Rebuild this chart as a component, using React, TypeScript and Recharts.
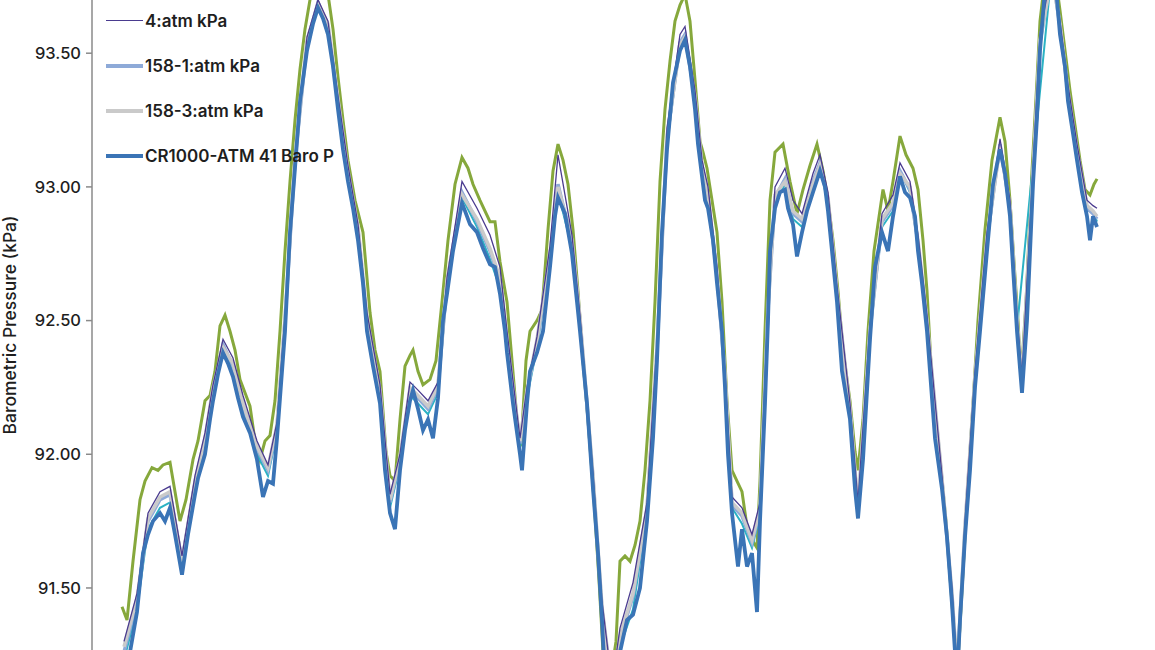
import React from 'react';
import { LineChart, Line, XAxis, YAxis, Legend } from 'recharts';

// sample times (hours from start of record)
const hoursA = [
  2, 8, 15, 21, 26, 31, 38, 43, 48, 53,
  60, 66, 73, 76, 83, 88, 91, 96, 101, 106,
  111, 116, 121, 128, 135, 141, 146, 151, 155, 160,
  163, 168, 173, 178, 185, 191, 196, 201, 206, 211,
  216, 221, 226, 231, 236, 241, 245, 251, 258, 263,
  268, 273, 278, 283, 288, 291, 296, 301, 306, 311,
  316, 321, 325, 331, 340, 348, 355, 361, 368, 373,
  378, 383, 385, 391, 398, 400, 405, 408, 415, 421,
  428, 433, 436, 443, 450, 455, 458, 465, 471, 476,
  480, 483, 490, 496, 498, 505, 511, 518, 525, 531,
  535, 540, 545, 551, 558, 563, 568, 573, 576, 580,
  583, 586, 591, 595, 600, 603, 606, 610, 616, 620,
  625, 630, 635, 638, 643, 646, 648, 653, 658, 663,
  666, 671, 675, 680, 685, 691, 698, 703, 706, 710,
  715, 720, 728, 733, 736, 741, 748, 753, 760, 766,
  771, 778, 783, 788, 793, 796, 800, 805, 813, 820,
  825, 830, 833, 835, 838, 843, 848, 853, 858, 865,
  871, 878, 883, 888, 891, 895, 900, 905, 911, 915,
  918, 923, 930, 935, 938, 943, 946, 951, 955, 960,
  965, 968, 971, 975,
];

const cr1000Baro = [
  91.22, 91.26, 91.41, 91.63, 91.70, 91.75, 91.78, 91.75, 91.80, 91.70,
  91.55, 91.70, 91.85, 91.91, 92.00, 92.13, 92.20, 92.30, 92.38, 92.34,
  92.29, 92.21, 92.14, 92.08, 91.98, 91.84, 91.90, 91.89, 92.06, 92.31,
  92.46, 92.83, 93.07, 93.32, 93.51, 93.61, 93.67, 93.63, 93.57, 93.45,
  93.29, 93.14, 93.02, 92.92, 92.80, 92.64, 92.46, 92.33, 92.19, 91.94,
  91.78, 91.72, 91.94, 92.09, 92.20, 92.24, 92.17, 92.09, 92.13, 92.06,
  92.21, 92.50, 92.60, 92.76, 92.94, 92.86, 92.83, 92.77, 92.71, 92.70,
  92.60, 92.46, 92.38, 92.19, 92.00, 91.94, 92.19, 92.31, 92.38, 92.46,
  92.70, 92.89, 92.96, 92.90, 92.75, 92.57, 92.46, 92.19, 91.87, 91.63,
  91.38, 91.15, 91.08, 91.19, 91.26, 91.38, 91.40, 91.50, 91.75, 92.06,
  92.35, 92.83, 93.14, 93.39, 93.51, 93.55, 93.45, 93.29, 93.16, 93.04,
  92.95, 92.92, 92.80, 92.64, 92.46, 92.25, 92.00, 91.78, 91.58, 91.72,
  91.58, 91.63, 91.41, 91.75, 92.19, 92.50, 92.76, 92.92, 92.98, 92.99,
  92.92, 92.86, 92.74, 92.83, 92.91, 92.98, 93.06, 93.00, 92.91, 92.76,
  92.57, 92.31, 92.13, 91.87, 91.76, 91.98, 92.43, 92.70, 92.83, 92.76,
  92.89, 93.04, 92.98, 92.96, 92.89, 92.76, 92.64, 92.46, 92.06, 91.87,
  91.69, 91.44, 91.26, 91.15, 91.38, 91.69, 91.94, 92.25, 92.46, 92.76,
  93.01, 93.14, 93.05, 92.89, 92.70, 92.46, 92.23, 92.50, 93.01, 93.26,
  93.51, 93.74, 93.78, 93.70, 93.57, 93.45, 93.32, 93.20, 93.10, 92.98,
  92.89, 92.80, 92.89, 92.85,
];

const hoursB = [
  2, 15, 26, 38, 48, 60, 73, 83, 91, 101,
  111, 121, 135, 146, 155, 163, 173, 185, 196, 206,
  216, 226, 236, 245, 258, 268, 278, 288, 296, 306,
  316, 325, 340, 355, 368, 378, 385, 398, 405, 415,
  428, 436, 450, 458, 471, 480, 490, 498, 511, 525,
  535, 545, 558, 563, 573, 580, 586, 595, 603, 610,
  620, 630, 638, 646, 653, 663, 671, 680, 691, 698,
  706, 715, 728, 736, 748, 760, 771, 778, 788, 796,
  805, 820, 830, 835, 843, 853, 865, 878, 888, 895,
  900, 911, 918, 930, 938, 946, 955, 965, 971, 975,
];

const atm4 = [
  91.30, 91.48, 91.78, 91.86, 91.88, 91.62, 91.92, 92.08, 92.26, 92.43,
  92.36, 92.22, 92.05, 91.96, 92.12, 92.52, 93.12, 93.56, 93.70, 93.62,
  93.34, 93.08, 92.86, 92.53, 92.26, 91.85, 92.00, 92.27, 92.24, 92.20,
  92.27, 92.66, 93.02, 92.92, 92.82, 92.70, 92.46, 92.06, 92.25, 92.44,
  92.78, 93.12, 92.82, 92.52, 91.93, 91.45, 91.14, 91.35, 91.52, 91.82,
  92.42, 93.22, 93.57, 93.60, 93.36, 93.10, 93.00, 92.70, 92.31, 91.84,
  91.80, 91.70, 91.82, 92.56, 93.00, 93.07, 92.95, 92.90, 93.05, 93.12,
  92.98, 92.63, 92.19, 91.82, 92.49, 92.90, 92.97, 93.09, 93.02, 92.82,
  92.52, 91.92, 91.50, 91.20, 91.75, 92.31, 92.83, 93.18, 92.95, 92.52,
  92.29, 93.07, 93.57, 93.82, 93.62, 93.38, 93.16, 92.95, 92.93, 92.92,
];

const atm158_1 = [
  91.26, 91.45, 91.75, 91.83, 91.85, 91.60, 91.89, 92.04, 92.24, 92.41,
  92.33, 92.18, 92.02, 91.94, 92.10, 92.50, 93.10, 93.54, 93.69, 93.60,
  93.32, 93.05, 92.84, 92.50, 92.23, 91.82, 91.98, 92.24, 92.21, 92.17,
  92.25, 92.64, 92.98, 92.87, 92.76, 92.65, 92.42, 92.04, 92.23, 92.42,
  92.74, 93.01, 92.79, 92.50, 91.91, 91.42, 91.12, 91.31, 91.47, 91.79,
  92.39, 93.18, 93.54, 93.57, 93.33, 93.07, 92.96, 92.67, 92.29, 91.81,
  91.77, 91.67, 91.79, 92.54, 92.96, 93.03, 92.90, 92.87, 93.02, 93.09,
  92.95, 92.60, 92.16, 91.79, 92.46, 92.87, 92.93, 93.06, 92.99, 92.79,
  92.49, 91.90, 91.47, 91.18, 91.72, 92.28, 92.80, 93.16, 92.92, 92.49,
  92.26, 93.04, 93.54, 93.80, 93.60, 93.35, 93.13, 92.92, 92.90, 92.88,
];

const atm158_3 = [
  91.28, 91.46, 91.76, 91.84, 91.86, 91.60, 91.90, 92.06, 92.25, 92.40,
  92.34, 92.19, 92.03, 91.95, 92.11, 92.51, 93.11, 93.55, 93.68, 93.61,
  93.33, 93.06, 92.85, 92.51, 92.24, 91.83, 91.99, 92.25, 92.22, 92.18,
  92.26, 92.65, 92.97, 92.88, 92.77, 92.66, 92.43, 92.05, 92.24, 92.43,
  92.75, 93.00, 92.80, 92.51, 91.92, 91.43, 91.13, 91.32, 91.48, 91.80,
  92.40, 93.19, 93.53, 93.56, 93.34, 93.08, 92.97, 92.68, 92.30, 91.82,
  91.78, 91.68, 91.80, 92.55, 92.97, 93.02, 92.91, 92.88, 93.01, 93.08,
  92.96, 92.61, 92.17, 91.80, 92.47, 92.88, 92.94, 93.05, 93.00, 92.80,
  92.50, 91.91, 91.48, 91.19, 91.73, 92.29, 92.81, 93.15, 92.93, 92.50,
  92.27, 93.05, 93.55, 93.79, 93.61, 93.36, 93.14, 92.93, 92.91, 92.89,
];

// teal trace (its legend entry is above the visible area); gap near the end
const tealTrace = [
  91.23, 91.42, 91.72, 91.80, 91.82, 91.57, 91.87, 92.02, 92.22, 92.39,
  92.31, 92.16, 92.00, 91.92, 92.08, 92.48, 93.09, 93.53, 93.68, 93.59,
  93.31, 93.04, 92.82, 92.48, 92.21, 91.80, 91.96, 92.22, 92.19, 92.15,
  92.23, 92.62, 92.96, 92.85, 92.73, 92.62, 92.40, 92.02, 92.21, 92.40,
  92.72, 92.98, 92.77, 92.48, 91.89, 91.40, 91.10, 91.28, 91.42, 91.77,
  92.37, 93.16, 93.53, 93.57, 93.31, 93.06, 92.94, 92.66, 92.27, 91.80,
  91.74, 91.65, 91.77, 92.52, 92.94, 93.01, 92.88, 92.85, 93.00, 93.08,
  92.93, 92.59, 92.15, 91.78, 92.45, 92.85, 92.91, 93.06, 92.98, 92.78,
  92.48, 91.89, 91.46, 91.17, 91.71, 92.27, 92.78, 93.16, 92.91, 92.47,
  null, null, null, 93.82, 93.59, 93.34, 93.12, 92.91, 92.91, 92.87,
];

// green trace (its legend entry is above the visible area)
const hoursGreen = [
  0, 5, 11, 18, 23, 30, 36, 41, 48, 53,
  58, 64, 71, 76, 83, 88, 93, 98, 103, 108,
  113, 118, 123, 128, 133, 138, 143, 148, 153, 158,
  163, 168, 173, 178, 183, 188, 196, 206, 211, 216,
  221, 226, 233, 241, 248, 253, 258, 264, 268, 273,
  278, 283, 288, 291, 296, 301, 308, 314, 320, 326,
  333, 340, 346, 351, 358, 368, 373, 378, 385, 390,
  395, 399, 404, 408, 415, 420, 426, 431, 436, 441,
  446, 451, 456, 461, 466, 472, 477, 481, 488, 494,
  498, 503, 508, 513, 518, 523, 528, 533, 538, 543,
  548, 553, 558, 563, 568, 573, 578, 581, 585, 590,
  595, 600, 605, 610, 615, 620, 625, 630, 635, 638,
  643, 648, 653, 661, 668, 675, 681, 688, 695, 701,
  706, 711, 716, 721, 728, 733, 736, 741, 746, 752,
  761, 766, 771, 778, 784, 791, 796, 801, 805, 811,
  818, 824, 829, 833, 836, 840, 845, 850, 856, 863,
  870, 878, 883, 888, 892, 896, 899, 904, 910, 915,
  918, 923, 933, 938, 943, 948, 953, 958, 963, 968,
  972, 975,
];

const greenTrace = [
  91.43, 91.38, 91.60, 91.83, 91.90, 91.95, 91.94, 91.96, 91.97, 91.86,
  91.75, 91.83, 91.98, 92.05, 92.20, 92.22, 92.31, 92.48, 92.52, 92.46,
  92.39, 92.28, 92.23, 92.18, 92.05, 91.98, 92.05, 92.07, 92.20, 92.46,
  92.76, 93.02, 93.25, 93.44, 93.59, 93.70, 93.79, 93.72, 93.59, 93.41,
  93.25, 93.10, 92.95, 92.83, 92.53, 92.39, 92.31, 92.01, 91.92, 91.90,
  92.13, 92.33, 92.37, 92.39, 92.31, 92.26, 92.28, 92.35, 92.57, 92.80,
  93.01, 93.11, 93.07, 93.01, 92.95, 92.87, 92.87, 92.72, 92.57, 92.35,
  92.13, 92.03, 92.35, 92.46, 92.50, 92.54, 92.84, 93.06, 93.16, 93.10,
  93.01, 92.84, 92.61, 92.35, 92.13, 91.83, 91.53, 91.26, 91.15, 91.30,
  91.60, 91.62, 91.60, 91.66, 91.75, 91.94, 92.20, 92.57, 93.02, 93.29,
  93.47, 93.62, 93.68, 93.72, 93.62, 93.40, 93.17, 93.13, 93.07, 92.95,
  92.83, 92.57, 92.20, 91.94, 91.90, 91.86, 91.73, 91.68, 91.65, 91.90,
  92.46, 92.95, 93.13, 93.16, 93.02, 92.90, 92.99, 93.08, 93.16, 93.06,
  92.95, 92.80, 92.61, 92.39, 92.20, 92.01, 91.94, 92.13, 92.46, 92.76,
  92.99, 92.91, 93.02, 93.19, 93.12, 93.07, 92.99, 92.80, 92.61, 92.20,
  91.98, 91.75, 91.49, 91.30, 91.23, 91.49, 91.83, 92.13, 92.50, 92.84,
  93.10, 93.26, 93.17, 92.95, 92.72, 92.50, 92.28, 92.57, 93.06, 93.40,
  93.62, 93.78, 93.80, 93.66, 93.51, 93.36, 93.23, 93.10, 92.99, 92.97,
  93.01, 93.03,
];

const yTicks = [91.5, 92, 92.5, 93, 93.5];

const FONT = 'Inter, Roboto, "Noto Sans", sans-serif';
const GREEN = '#86a83c';
const TEAL = '#2bb2c4';
const LIGHT_BLUE = '#8eaad8';
const GRAY = '#cacaca';
const PURPLE = '#4a3b8f';
const BLUE = '#3a74b6';

const legendItems = [
  { name: '4:atm kPa', color: PURPLE, width: 1.5 },
  { name: '158-1:atm kPa', color: LIGHT_BLUE, width: 4 },
  { name: '158-3:atm kPa', color: GRAY, width: 4 },
  { name: 'CR1000-ATM 41 Baro P', color: BLUE, width: 4 },
];

const toPoints = (hours: number[], values: (number | null)[]) =>
  hours.map((h, i) => ({ h, v: values[i] }));

const renderLegend = () => (
  <div style={{ fontFamily: FONT }}>
    {legendItems.map((item) => (
      <div key={item.name} style={{ display: 'flex', alignItems: 'center', height: 45 }}>
        <div style={{ width: 37, height: item.width, background: item.color, marginRight: 2 }} />
        <span style={{ fontSize: 17, fontWeight: 600, color: '#1e1e1e', whiteSpace: 'nowrap' }}>{item.name}</span>
      </div>
    ))}
  </div>
);

export default function App() {
  return (
    <div style={{ position: 'absolute', left: 0, top: 0 }}>
      <LineChart width={1155} height={650} margin={{ top: 0, right: 30, bottom: 0, left: 0 }}>
        <XAxis dataKey="h" type="number" domain={[-30, 1003]} hide allowDataOverflow />
        <YAxis
          type="number"
          domain={[91.268, 93.699]}
          allowDataOverflow
          ticks={yTicks}
          tickFormatter={(v: number) => v.toFixed(2)}
          width={92}
          axisLine={{ stroke: '#8a8a8a', strokeWidth: 1.5 }}
          tickLine={{ stroke: '#8a8a8a', strokeWidth: 1.5 }}
          tickSize={6}
          tickMargin={5}
          tick={{ fontSize: 16.5, fill: '#1e1e1e', fontFamily: FONT, fontWeight: 500 }}
          label={{
            value: 'Barometric Pressure (kPa)',
            angle: -90,
            position: 'insideLeft',
            offset: 10,
            style: { textAnchor: 'middle', fontSize: 17.5, fontWeight: 500, fill: '#1e1e1e', fontFamily: FONT },
          }}
        />
        <Legend
          layout="vertical"
          align="center"
          verticalAlign="middle"
          wrapperStyle={{ left: 106, top: -2, width: 340 }}
          content={renderLegend}
        />
        <Line data={toPoints(hoursGreen, greenTrace)} dataKey="v" stroke={GREEN} strokeWidth={3} dot={false} isAnimationActive={false} />
        <Line data={toPoints(hoursB, tealTrace)} dataKey="v" stroke={TEAL} strokeWidth={2} dot={false} connectNulls isAnimationActive={false} />
        <Line data={toPoints(hoursB, atm158_1)} dataKey="v" stroke={LIGHT_BLUE} strokeWidth={3.5} dot={false} isAnimationActive={false} />
        <Line data={toPoints(hoursB, atm158_3)} dataKey="v" stroke={GRAY} strokeWidth={3.5} dot={false} isAnimationActive={false} />
        <Line data={toPoints(hoursB, atm4)} dataKey="v" stroke={PURPLE} strokeWidth={1.3} dot={false} isAnimationActive={false} />
        <Line data={toPoints(hoursA, cr1000Baro)} dataKey="v" stroke={BLUE} strokeWidth={3.8} dot={false} isAnimationActive={false} />
      </LineChart>
    </div>
  );
}
